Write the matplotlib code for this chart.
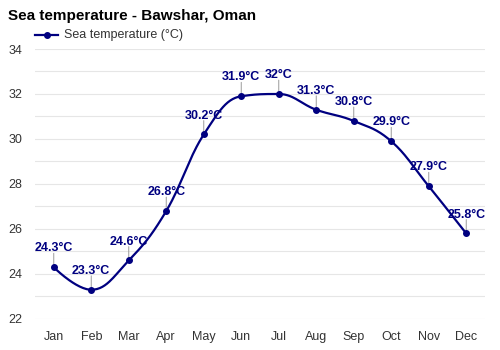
import numpy as np
import matplotlib
matplotlib.use("Agg")
import matplotlib.pyplot as plt

months = ["Jan", "Feb", "Mar", "Apr", "May", "Jun", "Jul", "Aug", "Sep", "Oct", "Nov", "Dec"]
sea_temp = [24.3, 23.3, 24.6, 26.8, 30.2, 31.9, 32.0, 31.3, 30.8, 29.9, 27.9, 25.8]
labels = ["24.3°C", "23.3°C", "24.6°C", "26.8°C", "30.2°C", "31.9°C", "32°C",
          "31.3°C", "30.8°C", "29.9°C", "27.9°C", "25.8°C"]
yticks = [22, 24, 26, 28, 30, 32, 34]

NAVY = "#000080"


def spline_path(xs, ys, smoothing=1.5, n=30):
    # highcharts-style spline: bezier segments with clamped control points
    xs = np.asarray(xs, float)
    ys = np.asarray(ys, float)
    m = len(xs)
    lc = [None] * m
    rc = [None] * m
    denom = smoothing + 1
    for i in range(m):
        if i == 0 or i == m - 1:
            lc[i] = (xs[i], ys[i])
            rc[i] = (xs[i], ys[i])
            continue
        lx = (smoothing * xs[i] + xs[i - 1]) / denom
        ly = (smoothing * ys[i] + ys[i - 1]) / denom
        rx = (smoothing * xs[i] + xs[i + 1]) / denom
        ry = (smoothing * ys[i] + ys[i + 1]) / denom
        corr = (ry - ly) * (rx - xs[i]) / (rx - lx) + ys[i] - ry
        ly += corr
        ry += corr
        if ly > ys[i - 1] and ly > ys[i]:
            ly = max(ys[i - 1], ys[i])
            ry = 2 * ys[i] - ly
        elif ly < ys[i - 1] and ly < ys[i]:
            ly = min(ys[i - 1], ys[i])
            ry = 2 * ys[i] - ly
        if ry > ys[i + 1] and ry > ys[i]:
            ry = max(ys[i + 1], ys[i])
            ly = 2 * ys[i] - ry
        elif ry < ys[i + 1] and ry < ys[i]:
            ry = min(ys[i + 1], ys[i])
            ly = 2 * ys[i] - ry
        lc[i] = (lx, ly)
        rc[i] = (rx, ry)
    px, py = [], []
    t = np.linspace(0, 1, n)
    for i in range(m - 1):
        p0 = np.array([xs[i], ys[i]])
        p1 = np.array(rc[i])
        p2 = np.array(lc[i + 1])
        p3 = np.array([xs[i + 1], ys[i + 1]])
        b = ((1 - t) ** 3)[:, None] * p0 + (3 * (1 - t) ** 2 * t)[:, None] * p1 \
            + (3 * (1 - t) * t ** 2)[:, None] * p2 + (t ** 3)[:, None] * p3
        px.extend(b[:, 0])
        py.extend(b[:, 1])
    return px, py


plt.rcParams["font.family"] = ["Liberation Sans", "DejaVu Sans"]

fig = plt.figure(figsize=(5, 3.5), dpi=100)
ax = fig.add_axes([0.07, 0.0886, 0.90, 0.7714])

x = np.arange(len(months))
sx, sy = spline_path(x, sea_temp)
ax.plot(sx, sy, color=NAVY, lw=1.6, zorder=3)
ax.plot(x, sea_temp, "o", color=NAVY, ms=4, zorder=4)

for xi, yi, lab in zip(x, sea_temp, labels):
    ax.annotate("", xy=(xi, yi), xytext=(0, 10), textcoords="offset points",
                xycoords="data",
                arrowprops=dict(arrowstyle="-", color="#999999", lw=0.7,
                                shrinkA=0, shrinkB=2))
    ax.annotate(lab, xy=(xi, yi), xytext=(0, 13.5), textcoords="offset points",
                ha="center", va="center", fontsize=9, fontweight="bold",
                color=NAVY, zorder=5)

ax.set_xlim(-0.5, 11.5)
ax.set_ylim(22, 34)
ax.set_xticks(x)
ax.set_xticklabels(months)
ax.set_yticks(yticks)
ax.set_yticks(np.arange(22, 35, 1), minor=True)
ax.grid(True, axis="y", which="both", color="#e6e6e6", lw=0.8)
ax.set_axisbelow(True)
for s in ax.spines.values():
    s.set_visible(False)
ax.tick_params(axis="both", which="both", length=0, labelsize=9,
               colors="#333333")
ax.tick_params(axis="x", pad=9)
ax.tick_params(axis="y", pad=9)

fig.text(0.016, 0.955, "Sea temperature - Bawshar, Oman", fontsize=11,
         fontweight="bold", va="center", ha="left", color="#000000")
# legend
fig.lines.append(plt.Line2D([0.07, 0.116], [0.9, 0.9], color=NAVY, lw=1.6,
                            transform=fig.transFigure))
fig.lines.append(plt.Line2D([0.093], [0.9], marker="o", color=NAVY, ms=4,
                            transform=fig.transFigure))
fig.text(0.128, 0.9, "Sea temperature (°C)", fontsize=9, va="center",
         ha="left", color="#333333")

fig.savefig("out.png", dpi=100)
